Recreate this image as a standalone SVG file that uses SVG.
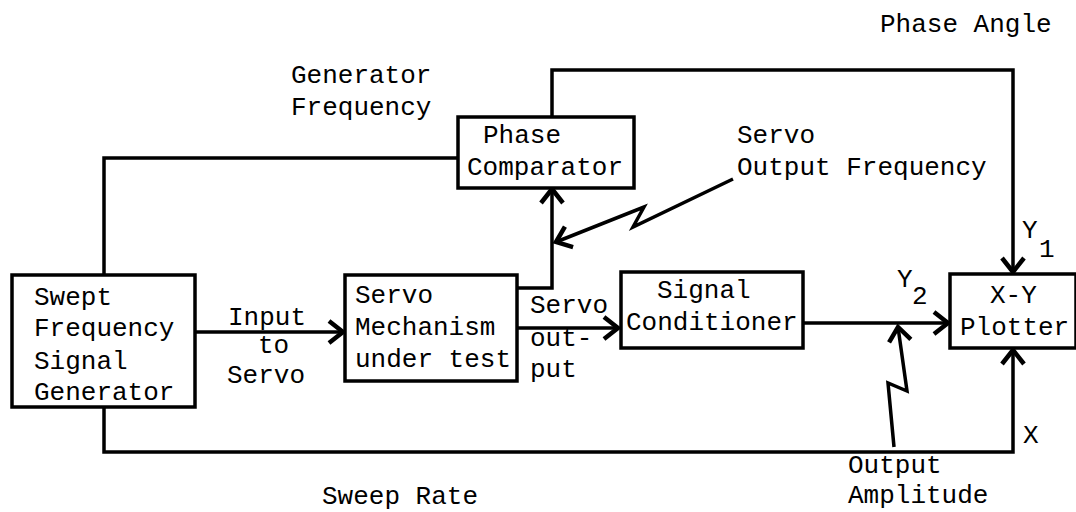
<svg xmlns="http://www.w3.org/2000/svg" width="1076" height="512" viewBox="0 0 1076 512">
<style>
  .box { fill: #fff; stroke: #000; stroke-width: 3.5; }
  .t { font-family: "Liberation Mono", "Courier New", monospace; font-size: 26px; fill: #000; }
  .c { fill: none; stroke: #000; stroke-width: 3.5; stroke-linejoin: miter; }
  .a { marker-end: url(#arr); }
</style>
<defs>
  <marker id="arr" markerUnits="userSpaceOnUse" markerWidth="30" markerHeight="30" viewBox="-18 -15 22 30" refX="0" refY="0" orient="auto">
    <path d="M -14 -11 L 0 0 L -14 11" fill="none" stroke="#000" stroke-width="4.5" stroke-linecap="butt"/>
  </marker>
</defs>
<rect width="1076" height="512" fill="#fff"/>

<g id="connectors">
  <path class="c" d="M104 275 V158 H458"/>
  <path class="c a" d="M552 117 V70 H1013 V272"/>
  <path class="c a" d="M517 288 H552 V189"/>
  <path class="c a" d="M195 332 H343"/>
  <path class="c a" d="M517 328 H618"/>
  <path class="c a" d="M803 323 H948"/>
  <path class="c a" d="M104 407 V452 H1013 V350"/>
  <path class="c a" d="M733 179 L633 227 L644 207 L556 242"/>
  <path class="c a" d="M894 447 L888 383 L907 391 L898 327"/>
</g>

<g id="swept-generator">
  <rect class="box" x="12" y="275" width="183" height="132"/>
  <text class="t" x="34" y="305">Swept</text>
  <text class="t" x="34" y="336">Frequency</text>
  <text class="t" x="34" y="369">Signal</text>
  <text class="t" x="34" y="400">Generator</text>
</g>

<g id="servo-mechanism">
  <rect class="box" x="345" y="275" width="172" height="106"/>
  <text class="t" x="355" y="303">Servo</text>
  <text class="t" x="355" y="335">Mechanism</text>
  <text class="t" x="355" y="367">under test</text>
</g>

<g id="phase-comparator">
  <rect class="box" x="458" y="117" width="176" height="71"/>
  <text class="t" x="483" y="143">Phase</text>
  <text class="t" x="467" y="175">Comparator</text>
</g>

<g id="signal-conditioner">
  <rect class="box" x="621" y="272" width="182" height="76"/>
  <text class="t" x="657" y="298">Signal</text>
  <text class="t" x="626" y="330">Conditioner</text>
</g>

<g id="xy-plotter">
  <rect class="box" x="950" y="274" width="126" height="74"/>
  <text class="t" x="990" y="303">X-Y</text>
  <text class="t" x="960" y="335">Plotter</text>
</g>

<g id="labels">
  <text class="t" x="291" y="83">Generator</text>
  <text class="t" x="291" y="115">Frequency</text>
  <text class="t" x="880" y="32">Phase Angle</text>
  <text class="t" x="737" y="143">Servo</text>
  <text class="t" x="737" y="175">Output Frequency</text>
  <text class="t" x="228" y="325">Input</text>
  <text class="t" x="258" y="353">to</text>
  <text class="t" x="227" y="383">Servo</text>
  <text class="t" x="530" y="313">Servo</text>
  <text class="t" x="530" y="346">out-</text>
  <text class="t" x="530" y="377">put</text>
  <text class="t" x="897" y="287">Y</text>
  <text class="t" x="912" y="304">2</text>
  <text class="t" x="1022" y="238">Y</text>
  <text class="t" x="1039" y="257">1</text>
  <text class="t" x="1023" y="443">X</text>
  <text class="t" x="848" y="473">Output</text>
  <text class="t" x="848" y="503">Amplitude</text>
  <text class="t" x="322" y="504">Sweep Rate</text>
</g>
</svg>
